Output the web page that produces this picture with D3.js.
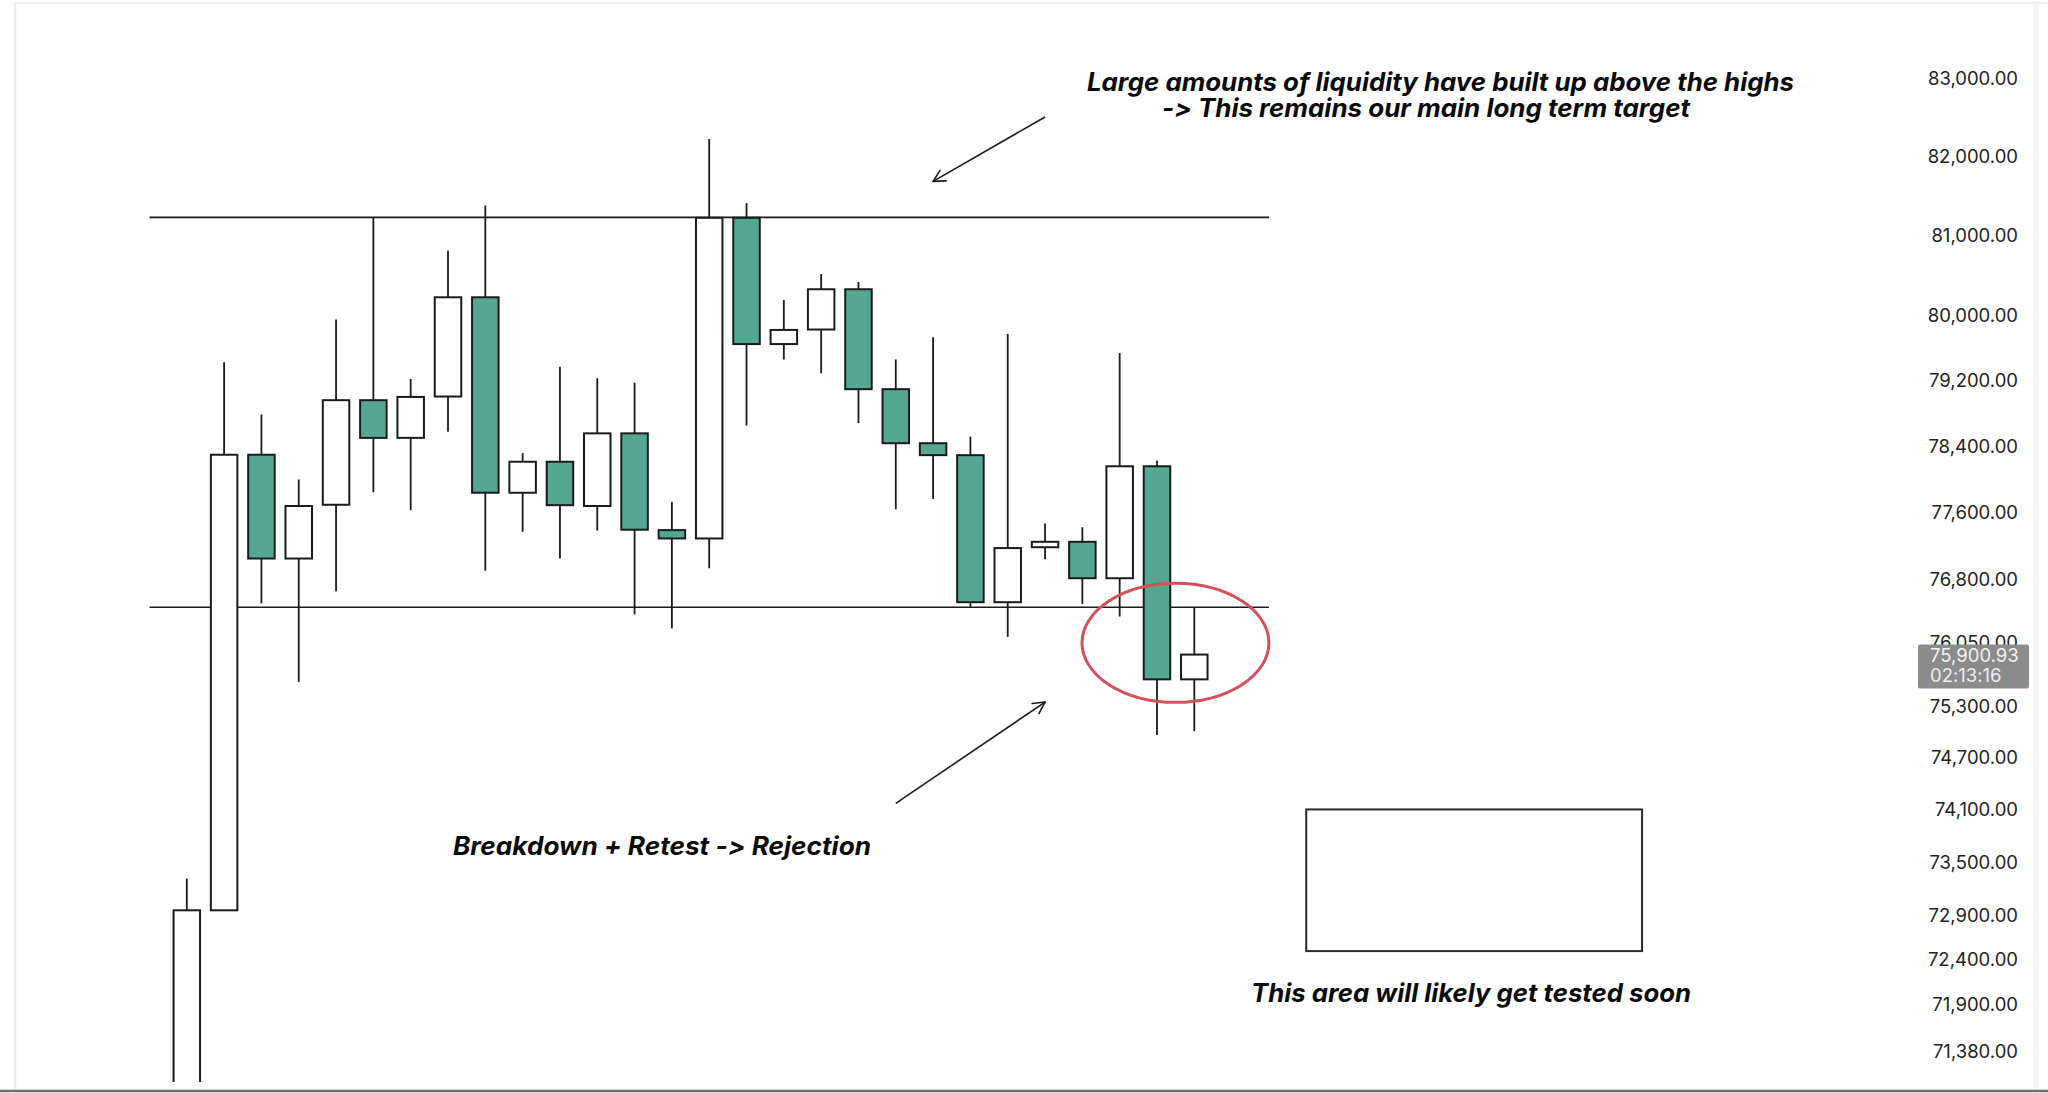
<!DOCTYPE html>
<html>
<head>
<meta charset="utf-8">
<script src="https://cdn.jsdelivr.net/npm/d3@7"></script>
<style>
  html, body { margin: 0; padding: 0; background: #ffffff; }
  svg { display: block; }
  text { font-variant-ligatures: none; font-feature-settings: "liga" 0, "calt" 0; }
</style>
</head>
<body>
<svg id="chart" width="2048" height="1093"></svg>
<script>
// ---------------- data ----------------
const candleIndex = [0,1,2,3,4,5,6,7,8,9,10,11,12,13,14,15,16,17,18,19,20,21,22,23,24,25,26,27];
const opens  = [70850,72950,78290,77040,77685,78955,78495,79000,80225,77830,78205,77670,78550,77380,77280,81220,79645,79825,80325,79090,78430,78285,76520,77175,77240,76805,78150,75610];
const highs  = [73310,79420,78780,77990,79950,81226,79215,80805,81375,78310,79365,79225,79170,77720,82220,81405,80190,80515,80415,79455,79730,78510,79770,77460,77415,79535,78220,76460];
const lows   = [70700,72950,76505,75580,76650,77835,77620,78570,76895,77360,77040,77375,76375,76210,76925,78645,79455,79285,78675,77630,77755,76465,76110,77030,76500,76350,74960,75005];
const closes = [72950,78290,77040,77670,78955,78495,78995,80225,77830,78205,77680,78550,77385,77280,81220,79645,79820,80325,79090,78430,78285,76520,77165,77240,76805,78150,75610,75900.93];

const tickValues = [83000,82000,81000,80000,79200,78400,77600,76800,76050,75300,74700,74100,73500,72900,72400,71900,71380];
const lastPrice = 75900.93;
const countdown = "02:13:16";

const resistance = 81226;
const support = 76460;
const levelSpan = [-1, 29];          // candle-index extent of the two horizontal levels
const targetBox = { x0: 30, x1: 39, p0: 74100, p1: 72490 };
const ellipse = { x0: 23.99, x1: 29.0, p0: 76744, p1: 75341 };
const arrowTop = { from: [23, 82500], to: [20, 81680] };
const arrowBottom = { from: [19, 74170], to: [23, 75344] };

const notes = [
  { text: "Large amounts of liquidity have built up above the highs", x: 1087, y: 91, w: 707 },
  { text: "-> This remains our main long term target", x: 1162, y: 117, w: 528 },
  { text: "Breakdown + Retest -> Rejection", x: 453, y: 855, w: 418 },
  { text: "This area will likely get tested soon", x: 1251, y: 1002, w: 440 }
];

// ---------------- scales ----------------
const svg = d3.select("#chart");
const x = d3.scaleLinear().domain([0, 27]).range([186.8, 1194.3]);
const y = d3.scaleLog().domain([83000, 71380]).range([78, 1050.6]);

const GREEN = "#54a891";
const INK = "#1b1b1b";
const bodyW = 26.5;

// frame
svg.append("rect").attr("x", 0).attr("y", 0).attr("width", 2048).attr("height", 1093).attr("fill", "#fff");
svg.append("line").attr("x1", 15).attr("x2", 15).attr("y1", 3).attr("y2", 1090).attr("stroke", "#efefef").attr("stroke-width", 2.5);
svg.append("line").attr("x1", 15).attr("x2", 2048).attr("y1", 3).attr("y2", 3).attr("stroke", "#efefef").attr("stroke-width", 2.5);
svg.append("rect").attr("x", 2033).attr("y", 3).attr("width", 6).attr("height", 1087).attr("fill", "#f6f6f6");
svg.append("line").attr("x1", 0).attr("x2", 2048).attr("y1", 1091).attr("y2", 1091).attr("stroke", "#6e6e6e").attr("stroke-width", 2.5);

svg.append("defs").append("clipPath").attr("id", "plotClip")
  .append("rect").attr("x", 0).attr("y", 0).attr("width", 1900).attr("height", 1082);

const plot = svg.append("g").attr("clip-path", "url(#plotClip)");

// horizontal levels
[resistance, support].forEach(p => {
  plot.append("line")
    .attr("x1", x(levelSpan[0])).attr("x2", x(levelSpan[1]))
    .attr("y1", y(p)).attr("y2", y(p))
    .attr("stroke", INK).attr("stroke-width", 1.7);
});

// candles
const candles = plot.selectAll("g.candle").data(candleIndex).join("g").attr("class", "candle");
candles.append("line")
  .attr("x1", i => x(i)).attr("x2", i => x(i))
  .attr("y1", i => y(highs[i])).attr("y2", i => y(lows[i]))
  .attr("stroke", INK).attr("stroke-width", 1.8);
candles.append("rect")
  .attr("x", i => x(i) - bodyW / 2)
  .attr("width", bodyW)
  .attr("y", i => y(Math.max(opens[i], closes[i])))
  .attr("height", i => Math.max(1, Math.abs(y(opens[i]) - y(closes[i]))))
  .attr("fill", i => closes[i] >= opens[i] ? "#ffffff" : GREEN)
  .attr("stroke", INK).attr("stroke-width", 2);

// red ellipse
plot.append("ellipse")
  .attr("cx", (x(ellipse.x0) + x(ellipse.x1)) / 2)
  .attr("cy", (y(ellipse.p0) + y(ellipse.p1)) / 2)
  .attr("rx", (x(ellipse.x1) - x(ellipse.x0)) / 2)
  .attr("ry", (y(ellipse.p1) - y(ellipse.p0)) / 2)
  .attr("fill", "none").attr("stroke", "#d5505a").attr("stroke-width", 3);

// target box
plot.append("rect")
  .attr("x", x(targetBox.x0)).attr("y", y(targetBox.p0))
  .attr("width", x(targetBox.x1) - x(targetBox.x0))
  .attr("height", y(targetBox.p1) - y(targetBox.p0))
  .attr("fill", "none").attr("stroke", "#2b2b2b").attr("stroke-width", 2);

// arrows with open heads
function arrow(a) {
  const x1 = x(a.from[0]), y1 = y(a.from[1]), x2 = x(a.to[0]), y2 = y(a.to[1]);
  const ang = Math.atan2(y2 - y1, x2 - x1);
  const L = 13, spread = Math.PI / 6.5;
  plot.append("line").attr("x1", x1).attr("y1", y1).attr("x2", x2).attr("y2", y2)
    .attr("stroke", INK).attr("stroke-width", 1.6);
  [ang + Math.PI - spread, ang + Math.PI + spread].forEach(t => {
    plot.append("line").attr("x1", x2).attr("y1", y2)
      .attr("x2", x2 + L * Math.cos(t)).attr("y2", y2 + L * Math.sin(t))
      .attr("stroke", INK).attr("stroke-width", 1.6).attr("stroke-linecap", "round");
  });
}
arrow(arrowTop);
arrow(arrowBottom);

// annotation texts
svg.selectAll("text.note").data(notes).join("text").attr("class", "note")
  .attr("x", d => d.x).attr("y", d => d.y)
  .attr("textLength", d => d.w).attr("lengthAdjust", "spacingAndGlyphs")
  .style("font-family", "Inter, 'Open Sans', sans-serif")
  .style("font-weight", 700).style("font-style", "italic")
  .style("font-size", "25px").attr("fill", "#0a0a0a")
  .text(d => d.text);

// price axis
const axis = d3.axisLeft(y).tickValues(tickValues).tickSize(0).tickPadding(0).tickFormat(d3.format(",.2f"));
const ax = svg.append("g").attr("transform", "translate(2018,0)").call(axis);
ax.select(".domain").remove();
ax.selectAll("text")
  .style("font-family", "Inter, 'Liberation Sans', sans-serif")
  .style("font-size", "18.5px").attr("fill", "#232323").attr("dy", "0.35em");

// last price label
const yl = y(lastPrice);
svg.append("rect").attr("x", 1918).attr("y", yl - 10).attr("width", 111).attr("height", 44)
  .attr("rx", 2).attr("fill", "#8b8b8b");
svg.append("text").attr("x", 1930).attr("y", yl + 7)
  .style("font-family", "Inter, 'Liberation Sans', sans-serif").style("font-size", "18.5px")
  .attr("fill", "#f2f2f2").text(d3.format(",.2f")(lastPrice));
svg.append("text").attr("x", 1930).attr("y", yl + 27.5)
  .style("font-family", "Inter, 'Liberation Sans', sans-serif").style("font-size", "18.5px")
  .attr("fill", "#ececec").text(countdown);
</script>
</body>
</html>
